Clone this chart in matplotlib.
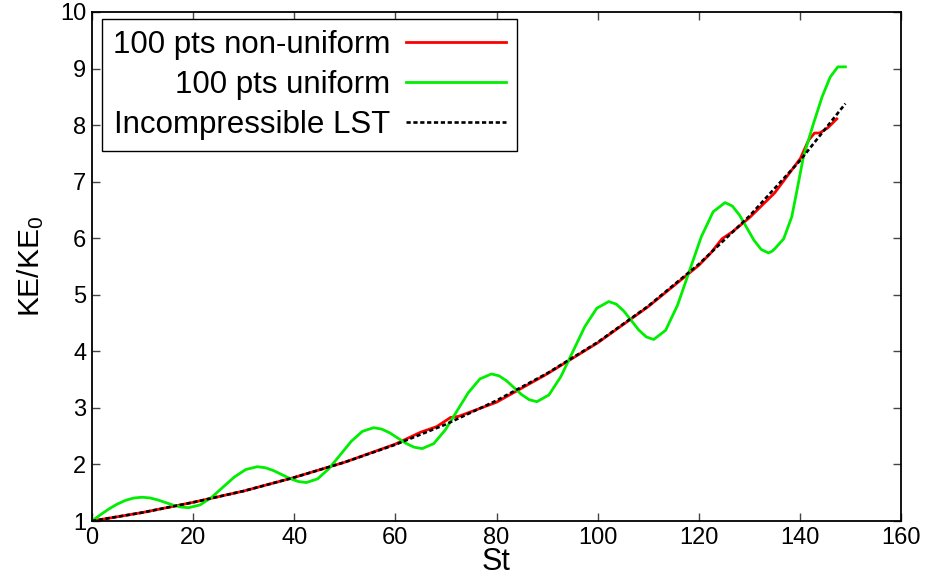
import matplotlib
matplotlib.use('Agg')
import matplotlib.pyplot as plt

plt.rcParams['font.family'] = ['Liberation Sans', 'DejaVu Sans']
plt.rcParams['mathtext.default'] = 'regular'

# Incompressible LST (black dashed)
t_lst = [0, 10, 20, 30, 40, 50, 60, 70, 80, 90, 100, 110, 120, 130, 140, 149]
ke_lst = [1.00, 1.15, 1.33, 1.53, 1.77, 2.04, 2.35, 2.71, 3.13, 3.61, 4.16,
          4.80, 5.54, 6.39, 7.37, 8.38]

# 100 pts non-uniform (red)
t_nonuni = [0, 10, 20, 30, 40, 50, 60, 65, 68.2, 70.9, 72.5, 80, 90, 100, 110,
            120, 122.3, 124.6, 126.6, 130, 135, 140.1, 141.7, 142.9, 143.9,
            145.5, 147.3]
ke_nonuni = [1.00, 1.15, 1.33, 1.53, 1.77, 2.04, 2.36, 2.57, 2.67, 2.83, 2.85,
             3.10, 3.60, 4.15, 4.79, 5.52, 5.73, 5.99, 6.11, 6.36, 6.80, 7.41,
             7.73, 7.86, 7.86, 7.95, 8.11]

# 100 pts uniform (green)
t_uni = [0, 1.65, 3.3, 4.95, 6.6, 8.25, 9.9,
         11.43, 12.97, 14.5, 16.03, 17.57, 19.1,
         21.37, 23.63, 25.9, 28.17, 30.43, 32.7,
         34.32, 35.93, 37.55, 39.17, 40.78, 42.4,
         44.62, 46.83, 49.05, 51.27, 53.48, 55.7,
         57.3, 58.9, 60.5, 62.1, 63.7, 65.3,
         67.58, 69.87, 72.15, 74.43, 76.72, 79.0,
         80.5, 82.0, 83.5, 85.0, 86.5, 88.0,
         90.37, 92.73, 95.1, 97.47, 99.83, 102.2,
         103.68, 105.17, 106.65, 108.13, 109.62, 111.1,
         113.45, 115.8, 118.15, 120.5, 122.85, 125.2,
         126.63, 128.07, 129.5, 130.93, 132.37, 133.8,
         134.5, 135.1, 136.8, 138.4, 139.5, 140.7, 142.7, 144.4, 146.0,
         147.5, 149.0]
ke_uni = [1.00, 1.109, 1.21, 1.297, 1.364, 1.406, 1.42,
          1.408, 1.374, 1.328, 1.281, 1.247, 1.235,
          1.284, 1.416, 1.598, 1.779, 1.911, 1.96,
          1.941, 1.89, 1.82, 1.75, 1.699, 1.68,
          1.745, 1.923, 2.165, 2.408, 2.585, 2.65,
          2.625, 2.558, 2.465, 2.373, 2.305, 2.28,
          2.368, 2.61, 2.94, 3.27, 3.512, 3.60,
          3.567, 3.478, 3.355, 3.233, 3.143, 3.11,
          3.229, 3.553, 3.995, 4.438, 4.762, 4.88,
          4.835, 4.713, 4.545, 4.378, 4.255, 4.21,
          4.372, 4.815, 5.42, 6.025, 6.468, 6.63,
          6.57, 6.408, 6.185, 5.963, 5.80, 5.74,
          5.77, 5.82, 5.99, 6.38, 6.88, 7.44, 8.03, 8.50, 8.85,
          9.03, 9.03]

x_ticks = [0, 20, 40, 60, 80, 100, 120, 140, 160]
y_ticks = [1, 2, 3, 4, 5, 6, 7, 8, 9, 10]

fig = plt.figure(figsize=(9.3, 5.79), dpi=100)
ax = fig.add_axes([92 / 930, 1 - 521 / 579, 809 / 930, 509 / 579])

ax.plot(t_nonuni, ke_nonuni, color='#ff0000', lw=2.0, label='100 pts non-uniform')
ax.plot(t_uni, ke_uni, color='#00ee00', lw=2.0, label='100 pts uniform')
ax.plot(t_lst, ke_lst, color='black', lw=1.9, dashes=(1.6, 1.0),
        label='Incompressible LST')

ax.set_xlim(0, 160)
ax.set_ylim(1, 10)
ax.set_xticks(x_ticks)
ax.set_yticks(y_ticks)
ax.tick_params(direction='in', length=6, width=1, color='#444444',
               top=True, right=True, labelsize=17, pad=4)
for s in ax.spines.values():
    s.set_linewidth(1.3)

ax.set_xlabel('St', fontsize=22, labelpad=-1)
ax.set_ylabel('KE/KE$_0$', fontsize=21.5, labelpad=10)

leg = ax.legend(loc='upper left', bbox_to_anchor=(0.012, 0.987),
                borderaxespad=0, markerfirst=False, fontsize=22.5,
                handlelength=3.2, handletextpad=0.5, labelspacing=0.32,
                borderpad=0.36, fancybox=False, framealpha=1)
leg.get_frame().set_edgecolor('black')
leg.get_frame().set_linewidth(1.0)

fig.savefig('out.png', dpi=100)
